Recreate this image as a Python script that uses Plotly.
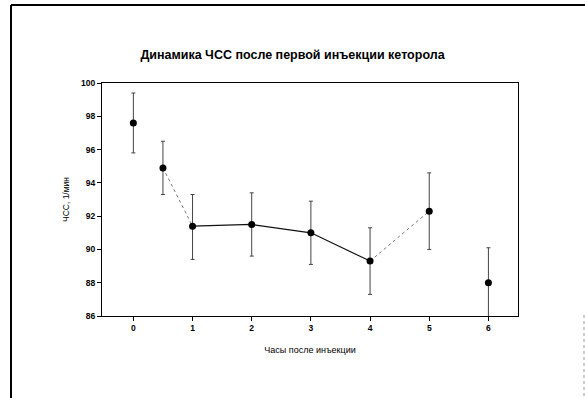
import plotly.graph_objects as go

hours = [0, 0.5, 1, 2, 3, 4, 5, 6]
hr_mean = [97.6, 94.9, 91.4, 91.5, 91.0, 89.3, 92.3, 88.0]
err_plus = [1.8, 1.6, 1.9, 1.9, 1.9, 2.0, 2.3, 2.1]
err_minus = [1.8, 1.6, 2.0, 1.9, 1.9, 2.0, 2.3, 2.1]

solid_idx = [2, 3, 4, 5]
dotted_segments = [[1, 2], [5, 6]]
x_ticks = [0, 1, 2, 3, 4, 5, 6]
y_ticks = [86, 88, 90, 92, 94, 96, 98, 100]

title = "Динамика ЧСС после первой инъекции кеторола"
x_title = "Часы после инъекции"
y_title = "ЧСС, 1/мин"

fig = go.Figure()

for seg in dotted_segments:
    fig.add_trace(go.Scatter(
        x=[hours[i] for i in seg], y=[hr_mean[i] for i in seg],
        mode="lines", line=dict(color="#777777", width=1, dash="dot"),
        hoverinfo="skip", showlegend=False))

fig.add_trace(go.Scatter(
    x=[hours[i] for i in solid_idx], y=[hr_mean[i] for i in solid_idx],
    mode="lines", line=dict(color="#111111", width=1.2),
    showlegend=False))

fig.add_trace(go.Scatter(
    x=hours, y=hr_mean, mode="markers",
    marker=dict(color="#000000", size=7),
    error_y=dict(type="data", symmetric=False, array=err_plus,
                 arrayminus=err_minus, color="#444444", thickness=1, width=2),
    showlegend=False))

fig.update_layout(
    width=585, height=398,
    margin=dict(l=102, r=67, t=83, b=82),
    paper_bgcolor="white", plot_bgcolor="white",
    font=dict(family="Arial, Liberation Sans, sans-serif", color="#000000"),
    title=dict(text="<b>" + title + "</b>", x=0.5, xanchor="center",
               y=1 - 55 / 398, yanchor="middle",
               font=dict(size=12.5)),
    xaxis=dict(range=[-0.53, 6.5], tickvals=x_ticks, ticks="outside",
               ticklen=4, tickcolor="#000", tickwidth=1,
               showline=True, linecolor="#000", linewidth=1, mirror=True,
               showgrid=False, zeroline=False,
               tickfont=dict(size=8.5, weight="bold"),
               title=dict(text=x_title, font=dict(size=9), standoff=14)),
    yaxis=dict(range=[86, 100], tickvals=y_ticks, ticks="outside",
               ticklen=4, tickcolor="#000", tickwidth=1,
               showline=True, linecolor="#000", linewidth=1, mirror=True,
               showgrid=False, zeroline=False,
               tickfont=dict(size=8.5, weight="bold"),
               title=dict(text=y_title, font=dict(size=8.5), standoff=10)),
)

# outer frame of the scanned page
fig.add_shape(type="line", xref="paper", yref="paper",
              x0=(11 - 102) / 416, x1=(585 - 102) / 416,
              y0=(316 - 5) / 233, y1=(316 - 5) / 233,
              line=dict(color="#000", width=2))
fig.add_shape(type="line", xref="paper", yref="paper",
              x0=(11 - 102) / 416, x1=(11 - 102) / 416,
              y0=(316 - 5) / 233, y1=(316 - 400) / 233,
              line=dict(color="#000", width=2))
fig.add_shape(type="line", xref="paper", yref="paper",
              x0=(584 - 102) / 416, x1=(584 - 102) / 416,
              y0=(316 - 315) / 233, y1=(316 - 400) / 233,
              line=dict(color="#999", width=1, dash="dot"))

fig.write_html("out.html", config={"displayModeBar": False},
               post_script="document.body.style.margin='0';document.body.style.overflow='hidden';")
